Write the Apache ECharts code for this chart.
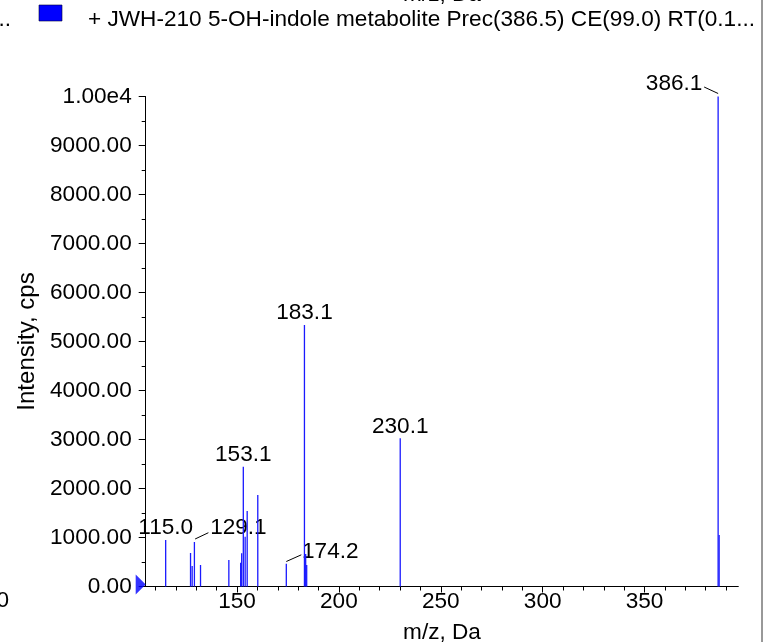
<!DOCTYPE html>
<html>
<head>
<meta charset="utf-8">
<script src="https://cdn.jsdelivr.net/npm/echarts@6/dist/echarts.min.js"></script>
<style>
html,body{margin:0;padding:0;background:#fff;}
#chart{width:765px;height:642px;}
</style>
</head>
<body>
<div id="chart"></div>
<script>
// ---- data ----
const seriesName = '+ JWH-210 5-OH-indole metabolite Prec(386.5) CE(99.0) RT(0.1...';
const mzValues = [115.0, 127.2, 128.0, 129.1, 132.1, 146.0, 151.8, 152.3, 153.1, 154.0, 155.0, 160.2, 174.2, 183.1, 183.7, 184.2, 230.1, 386.1, 386.6];
const intensities = [950, 684, 418, 908, 439, 541, 486, 677, 2445, 1016, 1541, 1867, 463, 5337, 663, 439, 3024, 10000, 1051];
const peakLabels = ['115.0', '129.1', '153.1', '174.2', '183.1', '230.1', '386.1'];
const xMajorTicks = [150, 200, 250, 300, 350];
const xMinorTicks = [110, 120, 130, 140, 160, 170, 180, 190, 210, 220, 230, 240, 260, 270, 280, 290, 310, 320, 330, 340, 360, 370, 380, 390];
const xRange = [105.2, 396.0];
const yRange = [0, 10000];
const yInterval = 1000;

// ---- label placement (style) ----
const FONT = 'Liberation Sans, Arial, sans-serif';
const FS = 22.6;
const labelPlacement = {
  '386.1': { dx: -44, dy: -12.5, line: [[-14, -9.5], [0, -3]] },
  '129.1': { dx: 44, dy: -14, line: [[0.7, -3], [14, -9.3]] },
  '174.2': { dx: 44, dy: -12, line: [[0, -2.3], [15, -9]] }
};

const barData = mzValues.map((m, i) => [m, intensities[i]]);
const labelData = peakLabels.map(l => {
  const i = mzValues.findIndex(m => m.toFixed(1) === l);
  return [mzValues[i], intensities[i], l];
});

const chart = echarts.init(document.getElementById('chart'), null, { renderer: 'canvas' });
const option = {
  animation: false,
  backgroundColor: '#fff',
  textStyle: { fontFamily: FONT, color: '#000' },
  grid: { left: 145.7, right: 26.7, top: 96.5, bottom: 55.5, containLabel: false, outerBoundsMode: 'none' },
  xAxis: [
    {
      type: 'value', min: xRange[0], max: xRange[1], position: 'bottom',
      splitLine: { show: false },
      axisLine: { show: true, lineStyle: { color: '#000', width: 1 } },
      axisTick: { show: true, length: 6, customValues: xMajorTicks, lineStyle: { color: '#000' } },
      axisLabel: { customValues: xMajorTicks, margin: 4, fontFamily: FONT, fontSize: FS, color: '#000' },
      name: 'm/z, Da', nameLocation: 'middle', nameGap: 35,
      nameTextStyle: { fontFamily: FONT, fontSize: FS, color: '#000' }
    },
    {
      type: 'value', min: xRange[0], max: xRange[1], position: 'bottom',
      splitLine: { show: false },
      axisLine: { show: false },
      axisTick: { show: true, length: 4, customValues: xMinorTicks, lineStyle: { color: '#000' } },
      axisLabel: { show: false }
    }
  ],
  yAxis: {
    type: 'value', min: yRange[0], max: yRange[1], interval: yInterval,
    splitLine: { show: false },
    axisLine: { show: true, lineStyle: { color: '#000', width: 1 } },
    axisTick: { show: true, length: 7, lineStyle: { color: '#000' } },
    minorTick: { show: true, splitNumber: 2, length: 4, lineStyle: { color: '#000' } },
    axisLabel: {
      margin: 14, fontFamily: FONT, fontSize: FS, color: '#000',
      formatter: v => (v === 10000 ? '1.00e4' : v.toFixed(2))
    },
    name: 'Intensity, cps', nameLocation: 'middle', nameGap: 104, nameRotate: 90,
    nameTextStyle: { fontFamily: FONT, fontSize: 24, color: '#000' }
  },
  graphic: [
    { type: 'line', shape: { x1: 762, y1: 0, x2: 762, y2: 642 }, style: { stroke: '#333', lineWidth: 1 } },
    { type: 'rect', shape: { x: 39, y: 5, width: 23, height: 16 }, style: { fill: '#0000ff', stroke: '#000033', lineWidth: 0.6 } },
    { type: 'text', x: 88, y: 20, style: { text: seriesName, font: FS + 'px ' + FONT, fill: '#000', verticalAlign: 'middle' } },
    { type: 'text', x: 11, y: 20, style: { text: '..', font: FS + 'px ' + FONT, fill: '#000', align: 'right', verticalAlign: 'middle' } },
    { type: 'text', x: 9, y: 601, style: { text: '0', font: FS + 'px ' + FONT, fill: '#000', align: 'right', verticalAlign: 'middle' } },
    { type: 'text', x: 442, y: 6, style: { text: 'm/z, Da', font: FS + 'px ' + FONT, fill: '#000', align: 'center', verticalAlign: 'bottom' } }
  ],
  series: [
    {
      name: seriesName, type: 'bar', xAxisIndex: 0,
      data: barData, barWidth: 1.3,
      itemStyle: { color: '#1a1aff' },
      emphasis: { disabled: true }
    },
    {
      type: 'scatter', xAxisIndex: 0, clip: false,
      data: [[xRange[0], 0]],
      symbol: 'triangle', symbolRotate: -90, symbolSize: [20, 10], symbolOffset: [-5, -2],
      itemStyle: { color: '#0000ff' }, silent: true
    },
    {
      type: 'custom', xAxisIndex: 0, clip: false, silent: true,
      data: labelData,
      renderItem: (params, api) => {
        const p = api.coord([api.value(0), api.value(1)]);
        const lbl = labelData[params.dataIndex][2];
        const pl = labelPlacement[lbl] || { dx: 0, dy: -12 };
        const children = [{
          type: 'text',
          style: {
            x: p[0] + pl.dx, y: p[1] + pl.dy, text: lbl,
            font: FS + 'px ' + FONT, fill: '#000', align: 'center', verticalAlign: 'middle'
          }
        }];
        if (pl.line) {
          children.push({
            type: 'line',
            shape: { x1: p[0] + pl.line[0][0], y1: p[1] + pl.line[0][1], x2: p[0] + pl.line[1][0], y2: p[1] + pl.line[1][1] },
            style: { stroke: '#000', lineWidth: 1 }
          });
        }
        return { type: 'group', children };
      }
    }
  ]
};
chart.setOption(option);
</script>
</body>
</html>
